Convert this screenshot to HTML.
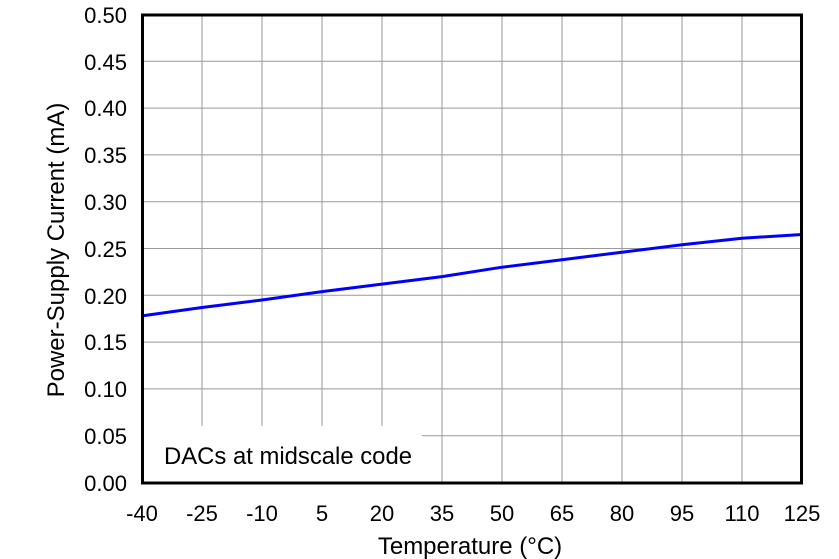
<!DOCTYPE html>
<html><head><style>body{margin:0;background:#fff}svg{display:block}</style></head>
<body>
<svg width="839" height="559" xmlns="http://www.w3.org/2000/svg" font-family="Liberation Sans, Arial, sans-serif">
<rect width="839" height="559" fill="#fff"/>
<g stroke="#999" stroke-width="1">
<line x1="202" y1="15" x2="202" y2="483"/><line x1="262" y1="15" x2="262" y2="483"/>
<line x1="322" y1="15" x2="322" y2="483"/><line x1="382" y1="15" x2="382" y2="483"/>
<line x1="442" y1="15" x2="442" y2="483"/><line x1="502" y1="15" x2="502" y2="483"/>
<line x1="562" y1="15" x2="562" y2="483"/><line x1="622" y1="15" x2="622" y2="483"/>
<line x1="682" y1="15" x2="682" y2="483"/><line x1="742" y1="15" x2="742" y2="483"/>
<line x1="142" y1="61.3" x2="802" y2="61.3"/><line x1="142" y1="108.1" x2="802" y2="108.1"/>
<line x1="142" y1="154.9" x2="802" y2="154.9"/><line x1="142" y1="201.7" x2="802" y2="201.7"/>
<line x1="142" y1="248.5" x2="802" y2="248.5"/><line x1="142" y1="295.3" x2="802" y2="295.3"/>
<line x1="142" y1="342.1" x2="802" y2="342.1"/><line x1="142" y1="388.9" x2="802" y2="388.9"/>
<line x1="142" y1="435.7" x2="802" y2="435.7"/>
</g>
<rect x="144" y="426" width="278" height="56" fill="#fff"/>
<text x="164" y="464" font-size="24" textLength="248" lengthAdjust="spacingAndGlyphs">DACs at midscale code</text>
<polyline fill="none" stroke="#0000ff" stroke-width="3" points="142,315.9 202,307.5 262,300 322,291.6 382,284.1 442,276.6 502,267.2 562,259.7 622,252.2 682,244.8 742,238.2 802,234.5"/>
<rect x="142.5" y="15" width="659" height="468" fill="none" stroke="#000" stroke-width="3"/>
<g font-size="22" text-anchor="end">
<text x="127" y="23">0.50</text><text x="127" y="70">0.45</text><text x="127" y="116">0.40</text>
<text x="127" y="163">0.35</text><text x="127" y="210">0.30</text><text x="127" y="257">0.25</text>
<text x="127" y="304">0.20</text><text x="127" y="350">0.15</text><text x="127" y="397">0.10</text>
<text x="127" y="444">0.05</text><text x="127" y="491">0.00</text>
</g>
<g font-size="22" text-anchor="middle">
<text x="142" y="521">-40</text><text x="202" y="521">-25</text><text x="262" y="521">-10</text>
<text x="322" y="521">5</text><text x="382" y="521">20</text><text x="442" y="521">35</text>
<text x="502" y="521">50</text><text x="562" y="521">65</text><text x="622" y="521">80</text>
<text x="682" y="521">95</text><text x="742" y="521">110</text><text x="802" y="521">125</text>
</g>
<g font-size="24" text-anchor="middle">
<text x="470" y="554">Temperature (°C)</text>
<text transform="translate(64,250) rotate(-90)">Power-Supply Current (mA)</text>
</g>
</svg>
</body></html>
